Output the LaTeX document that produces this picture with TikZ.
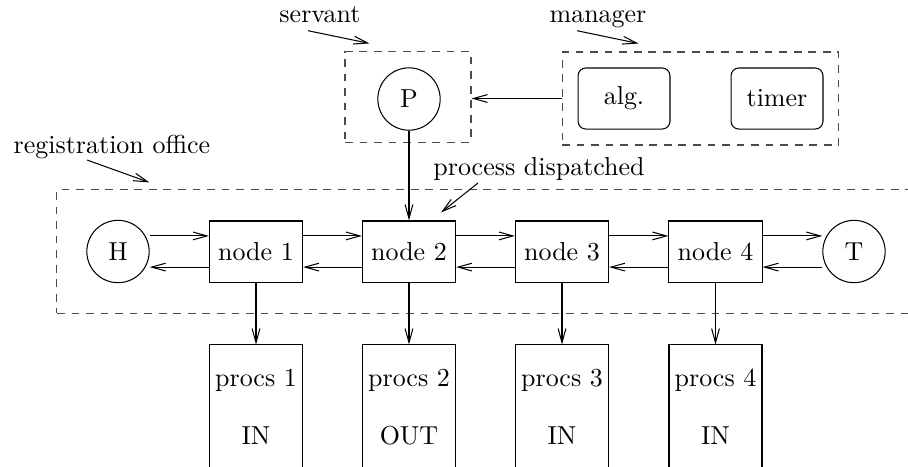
\documentclass[tikz,border=0pt]{standalone}
\usetikzlibrary{arrows.meta}

\begin{document}
\begin{tikzpicture}[x=0.385pt,y=-0.385pt,
 arr/.style={-{Straight Barb[length=5.4pt,width=3pt]},line width=.4pt},
 grp/.style={draw=black!70,dash pattern=on 3pt off 2.6pt,line width=.4pt},
 nodebox/.style={draw,minimum width=35.4pt,minimum height=23.5pt},
 endpt/.style={draw,circle,minimum size=24pt,inner sep=0pt},
 part/.style={draw,rounded corners=3pt,minimum width=35.4pt,minimum height=23.5pt},
 procs/.style={minimum width=35.4pt,minimum height=47.7pt,inner xsep=0pt,align=center}]
\clip (0,0) rectangle (908,466);
% groups
\node[grp,minimum width=48.5pt,minimum height=34.7pt] (srv) at (408,97) {};
\node[grp,minimum width=106.6pt,minimum height=35.8pt] (mgr) at (700.5,98.5) {};
\node[grp,minimum width=331.5pt,minimum height=47.4pt] (reg) at (487.5,251.5) {};
% servant and manager parts
\node[endpt] (P) at (409,99) {P};
\node[part] (alg) at (624,98.5) {alg.};
\node[part] (timer) at (777,98.5) {timer};
% list of the registration office
\node[endpt] (H) at (118,251.5) {H};
\node[nodebox] (n1) at (256,251.5) {node 1};
\node[nodebox] (n2) at (409,251.5) {node 2};
\node[nodebox] (n3) at (562,251.5) {node 3};
\node[nodebox] (n4) at (715.5,251.5) {node 4};
\node[endpt] (T) at (854,251.5) {T};
% process tables
\node[procs] (p1) at (256,407) {procs 1\\[10.3pt]IN};
\node[procs] (p2) at (409,407) {procs 2\\[10.3pt]OUT};
\node[procs] (p3) at (562,407) {procs 3\\[10.3pt]IN};
\node[procs] (p4) at (715.5,407) {procs 4\\[10.3pt]IN};
\draw (p1.south west) |- (p1.north east) -- (p1.south east);
\draw (p2.south west) |- (p2.north east) -- (p2.south east);
\draw (p3.south west) |- (p3.north east) -- (p3.south east);
\draw (p4.south west) |- (p4.north east) -- (p4.south east);
% labels
\node[anchor=base] (srvlbl) at (320,22.7) {servant};
\node[anchor=base] (mgrlbl) at (598,22.7) {manager};
\node[anchor=base] (reglbl) at (112,153) {registration office};
\node[anchor=base] (displbl) at (539,175) {process dispatched};
\draw[arr] (srvlbl.base) ++(-12,8) -- ([shift={(25,-8)}]srv.north west);
\draw[arr] (mgrlbl.base) ++(-21,8) -- ([shift={(77,-8)}]mgr.north west);
\draw[arr] (reglbl.base) ++(-25,7) -- ([shift={(93,-7)}]reg.north west);
\draw[arr] (displbl.base) ++(-61,8) -- ([shift={(-15,-8)}]n2.north east);
% connectors
\draw[arr] (mgr.west) -- (srv.east |- mgr.west);
\draw[arr] (P.south) -- (n2.north);
\draw[arr] ([yshift=6pt]H.east) -- ([yshift=6pt]n1.west);
\draw[arr] ([yshift=-6pt]n1.west) -- ([yshift=-6pt]H.east);
\draw[arr] ([yshift=6pt]n1.east) -- ([yshift=6pt]n2.west);
\draw[arr] ([yshift=-6pt]n2.west) -- ([yshift=-6pt]n1.east);
\draw[arr] ([yshift=6pt]n2.east) -- ([yshift=6pt]n3.west);
\draw[arr] ([yshift=-6pt]n3.west) -- ([yshift=-6pt]n2.east);
\draw[arr] ([yshift=6pt]n3.east) -- ([yshift=6pt]n4.west);
\draw[arr] ([yshift=-6pt]n4.west) -- ([yshift=-6pt]n3.east);
\draw[arr] ([yshift=6pt]n4.east) -- ([yshift=6pt]T.west);
\draw[arr] ([yshift=-6pt]T.west) -- ([yshift=-6pt]n4.east);
\draw[arr] (n1.south) -- (p1.north);
\draw[arr] (n2.south) -- (p2.north);
\draw[arr] (n3.south) -- (p3.north);
\draw[arr] (n4.south) -- (p4.north);
\end{tikzpicture}
\end{document}
